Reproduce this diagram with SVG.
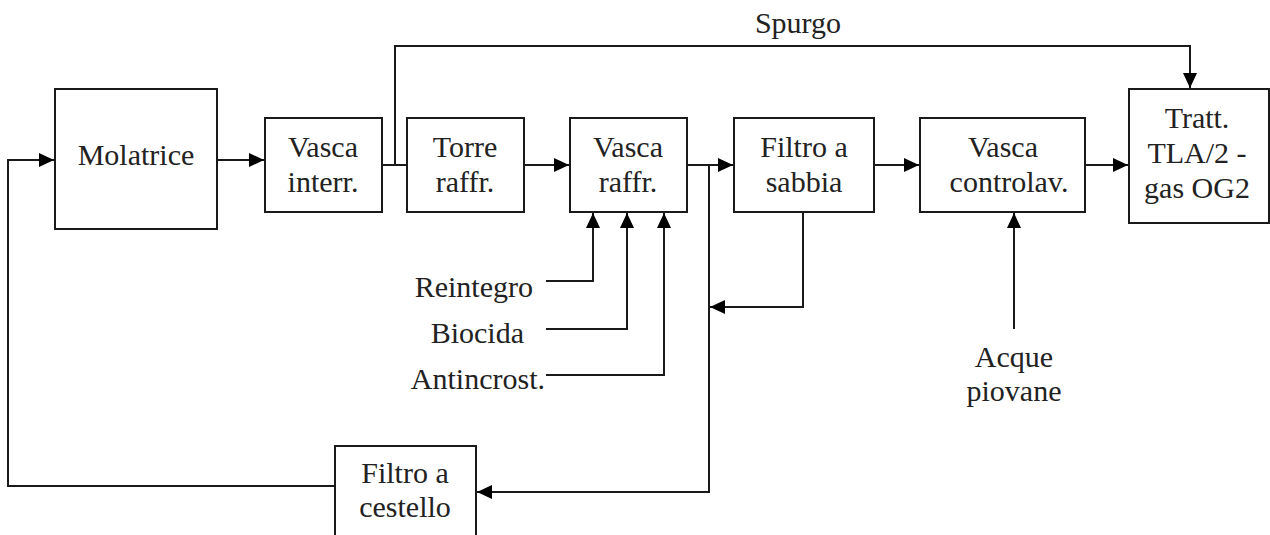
<svg xmlns="http://www.w3.org/2000/svg" width="1270" height="535" viewBox="0 0 1270 535">
<style>
text{font-family:'Liberation Serif','Times New Roman',Times,'DejaVu Serif',serif;font-size:30px;fill:#222}
.t{text-anchor:middle}
.box{fill:#fff;stroke:#1a1a1a;stroke-width:2}
.c{fill:none;stroke:#1a1a1a;stroke-width:2}
</style>
<defs>
<marker id="ah" markerUnits="userSpaceOnUse" markerWidth="16" markerHeight="14" refX="15" refY="7" orient="auto">
<path d="M0,0 L15,7 L0,14 Z" fill="#000"/>
</marker>
</defs>
<rect width="1270" height="535" fill="#fff"/>
<g id="connectors">
<path class="c" d="M335,486 H8 V160 H54" marker-end="url(#ah)"/>
<path class="c" d="M217,160 H264" marker-end="url(#ah)"/>
<path class="c" d="M382,165 H407"/>
<path class="c" d="M395,165 V46 H1190 V88" marker-end="url(#ah)"/>
<path class="c" d="M524,165 H569" marker-end="url(#ah)"/>
<path class="c" d="M687,165 H733" marker-end="url(#ah)"/>
<path class="c" d="M709,165 V492 H477" marker-end="url(#ah)"/>
<path class="c" d="M803,212 V307 H710" marker-end="url(#ah)"/>
<path class="c" d="M874,165 H919" marker-end="url(#ah)"/>
<path class="c" d="M1085,165 H1128" marker-end="url(#ah)"/>
<path class="c" d="M1014,329 V213" marker-end="url(#ah)"/>
<path class="c" d="M546,281 H593 V213" marker-end="url(#ah)"/>
<path class="c" d="M546,329 H627 V213" marker-end="url(#ah)"/>
<path class="c" d="M546,375 H664 V213" marker-end="url(#ah)"/>
</g>
<g id="labels">
<text class="t" x="798" y="33" font-family="Liberation Serif, serif">Spurgo</text>
<text x="533" y="297" text-anchor="end">Reintegro</text>
<text x="524" y="343" text-anchor="end">Biocida</text>
<text x="545" y="389" text-anchor="end">Antincrost.</text>
<text class="t" x="1014" y="367">Acque</text>
<text class="t" x="1014" y="401">piovane</text>
</g>
<g id="molatrice"><rect class="box" x="55" y="89" width="162" height="140"/><text class="t" x="136" y="165">Molatrice</text></g>
<g id="vasca-interr"><rect class="box" x="265" y="118" width="117" height="94"/><text class="t" x="323" y="157">Vasca</text><text class="t" x="323" y="192">interr.</text></g>
<g id="torre-raffr"><rect class="box" x="407" y="118" width="117" height="94"/><text class="t" x="465" y="157">Torre</text><text class="t" x="465" y="192">raffr.</text></g>
<g id="vasca-raffr"><rect class="box" x="570" y="118" width="117" height="94"/><text class="t" x="628" y="157">Vasca</text><text class="t" x="628" y="192">raffr.</text></g>
<g id="filtro-sabbia"><rect class="box" x="734" y="118" width="140" height="94"/><text class="t" x="804" y="157">Filtro a</text><text class="t" x="804" y="192">sabbia</text></g>
<g id="vasca-controlav"><rect class="box" x="920" y="118" width="165" height="94"/><text class="t" x="1003" y="157">Vasca</text><text class="t" x="1009" y="192">controlav.</text></g>
<g id="tratt"><rect class="box" x="1129" y="89" width="140" height="134"/><text class="t" x="1197" y="128">Tratt.</text><text class="t" x="1197" y="163">TLA/2 -</text><text class="t" x="1197" y="198">gas OG2</text></g>
<g id="filtro-cestello"><rect class="box" x="335" y="446" width="141" height="100"/><text class="t" x="405" y="483">Filtro a</text><text class="t" x="405" y="517">cestello</text></g>
</svg>
